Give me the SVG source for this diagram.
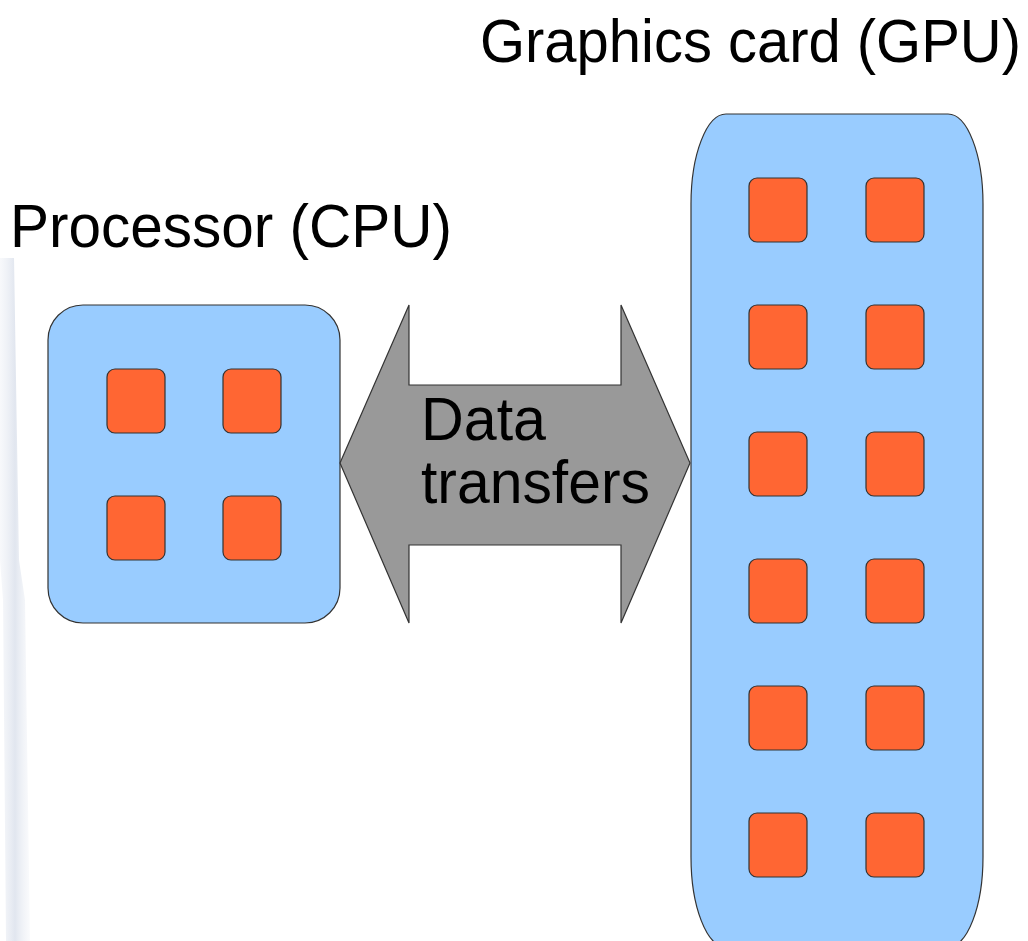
<svg xmlns="http://www.w3.org/2000/svg" width="1028" height="941" viewBox="0 0 1028 941">
  <style>
    .box { fill: #99ccff; stroke: #333333; stroke-width: 1.2; }
    .core { fill: #ff6633; stroke: #333333; stroke-width: 1.2; }
    .arrow { fill: #999999; stroke: #333333; stroke-width: 1.2; }
    .label { font-family: "Liberation Sans", Arial, sans-serif; font-size: 61px; fill: #000000; }
  </style>
  <defs>
    <linearGradient id="streak" x1="0" y1="0" x2="1" y2="0">
      <stop offset="0" stop-color="#e6eaf2" stop-opacity="0.3"/>
      <stop offset="0.5" stop-color="#d4dbe8" stop-opacity="0.7"/>
      <stop offset="1" stop-color="#e6eaf2" stop-opacity="0.2"/>
    </linearGradient>
  </defs>
  <rect x="0" y="0" width="1028" height="941" fill="#ffffff"/>
  <polygon points="0,258 14,258 19,560 25,600 30,941 6,941 3,600 0,560" fill="url(#streak)"/>

  <g id="cpu-label">
    <text class="label" x="10" y="247" textLength="442" lengthAdjust="spacingAndGlyphs">Processor (CPU)</text>
  </g>
  <g id="gpu-label">
    <text class="label" x="480" y="62" textLength="541" lengthAdjust="spacingAndGlyphs">Graphics card (GPU)</text>
  </g>

  <g id="cpu">
    <rect class="box" x="48" y="305" width="292" height="318" rx="35" ry="35"/>
    <rect class="core" x="107" y="369" width="58" height="64" rx="8" ry="8"/>
    <rect class="core" x="223" y="369" width="58" height="64" rx="8" ry="8"/>
    <rect class="core" x="107" y="496" width="58" height="64" rx="8" ry="8"/>
    <rect class="core" x="223" y="496" width="58" height="64" rx="8" ry="8"/>
  </g>

  <g id="gpu">
    <path class="box" d="M726,114 H948 A35,90 0 0 1 983,204 V857 A35,90 0 0 1 948,947 H726 A35,90 0 0 1 691,857 V204 A35,90 0 0 1 726,114 Z"/>
    <rect class="core" x="749" y="178" width="58" height="64" rx="8" ry="8"/>
    <rect class="core" x="866" y="178" width="58" height="64" rx="8" ry="8"/>
    <rect class="core" x="749" y="305" width="58" height="64" rx="8" ry="8"/>
    <rect class="core" x="866" y="305" width="58" height="64" rx="8" ry="8"/>
    <rect class="core" x="749" y="432" width="58" height="64" rx="8" ry="8"/>
    <rect class="core" x="866" y="432" width="58" height="64" rx="8" ry="8"/>
    <rect class="core" x="749" y="559" width="58" height="64" rx="8" ry="8"/>
    <rect class="core" x="866" y="559" width="58" height="64" rx="8" ry="8"/>
    <rect class="core" x="749" y="686" width="58" height="64" rx="8" ry="8"/>
    <rect class="core" x="866" y="686" width="58" height="64" rx="8" ry="8"/>
    <rect class="core" x="749" y="813" width="58" height="64" rx="8" ry="8"/>
    <rect class="core" x="866" y="813" width="58" height="64" rx="8" ry="8"/>
  </g>

  <g id="connectors">
    <g id="data-transfers">
      <polygon class="arrow" points="340,463 409,305 409,385 621,385 621,305 690,463 621,623 621,545 409,545 409,623"/>
      <text class="label" x="421" y="440" textLength="125" lengthAdjust="spacingAndGlyphs">Data</text>
      <text class="label" x="421" y="503" textLength="229" lengthAdjust="spacingAndGlyphs">transfers</text>
    </g>
  </g>
</svg>
